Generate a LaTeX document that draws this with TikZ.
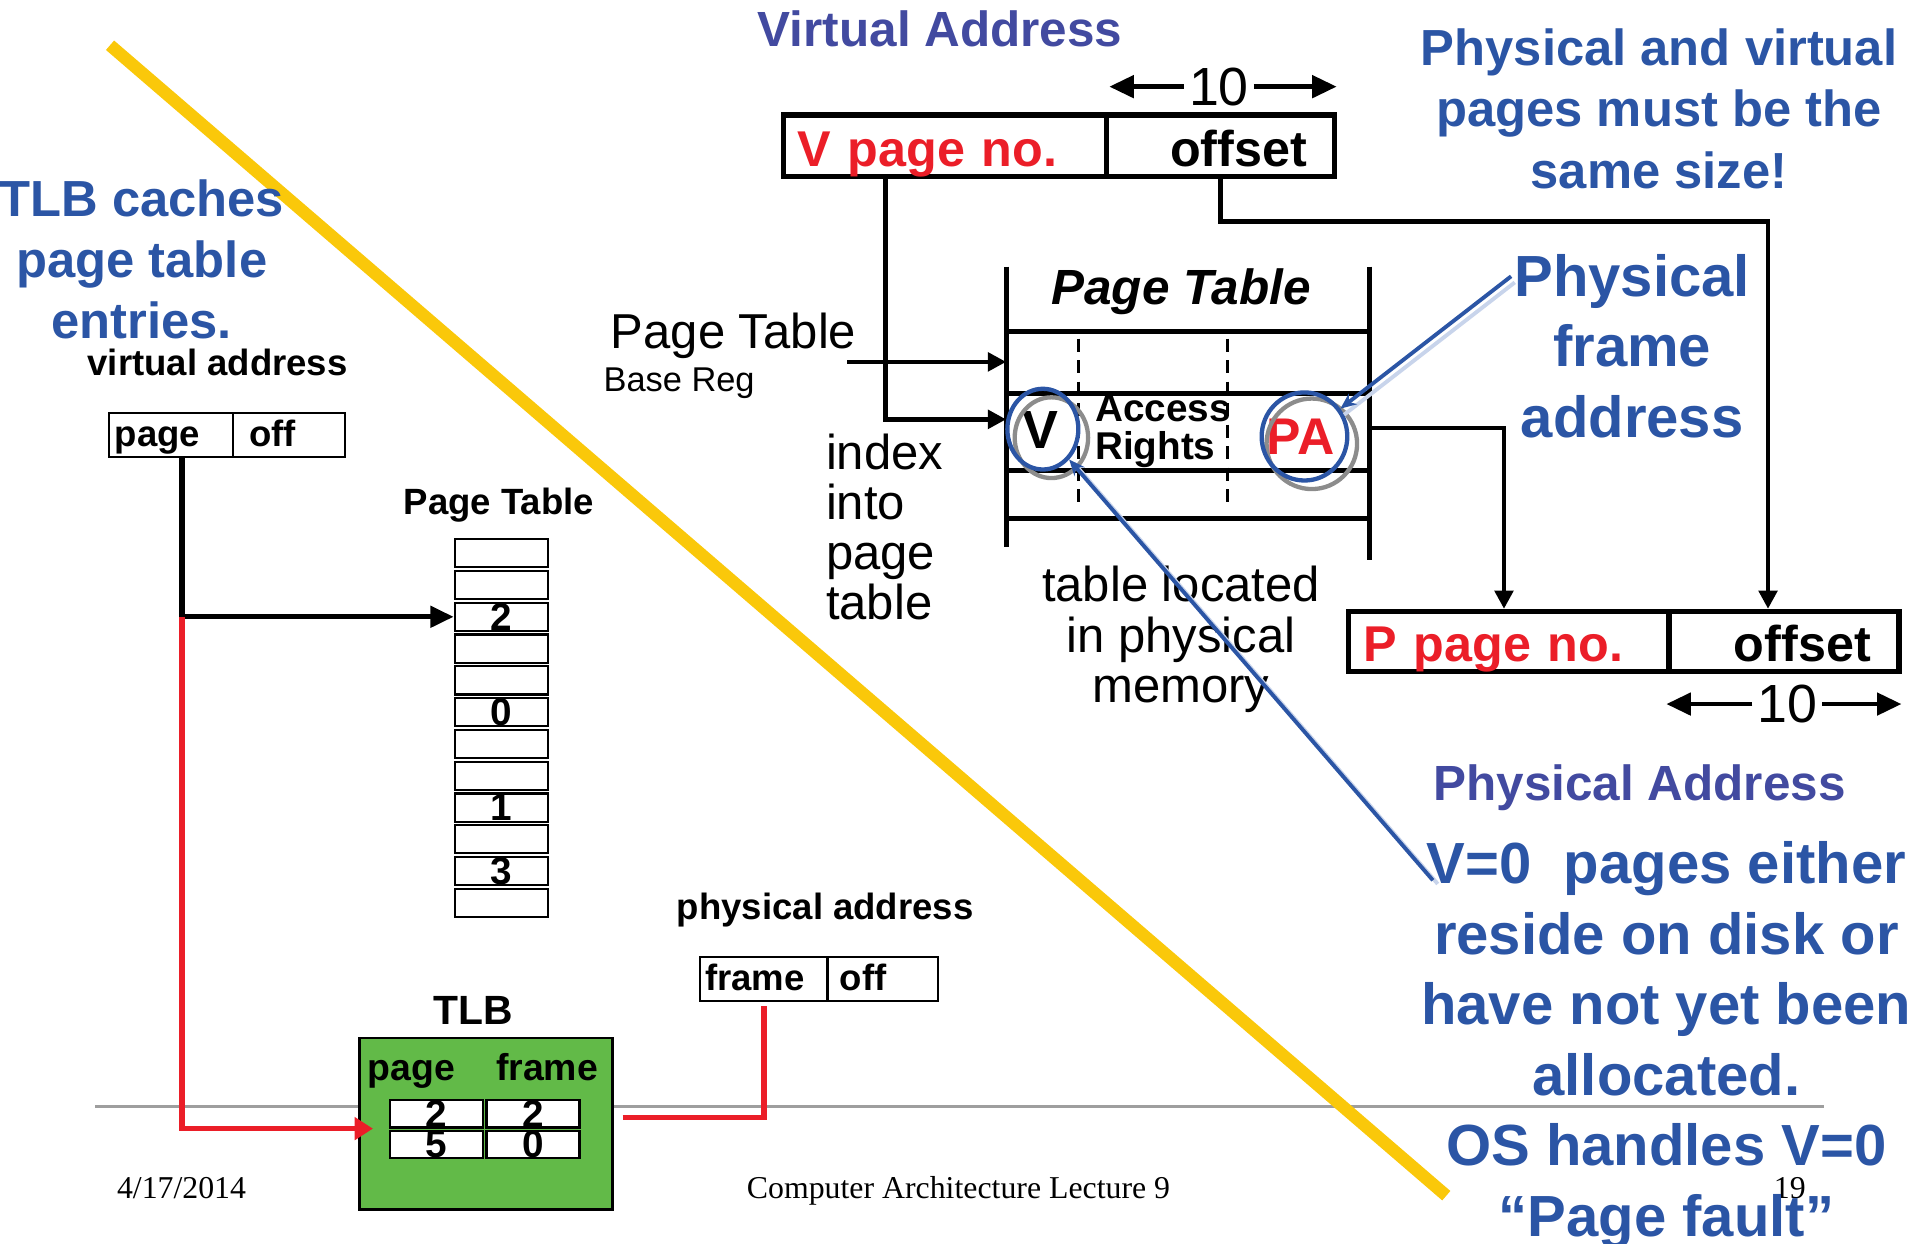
\documentclass[tikz,border=0pt]{standalone}
\usepackage{fontspec}
\setmainfont{Liberation Sans}
\newfontfamily\slideserif{Liberation Serif}
\usetikzlibrary{arrows.meta,shapes.geometric}

\definecolor{noteblue}{RGB}{43,85,165}
\definecolor{headblue}{RGB}{66,74,160}
\definecolor{bitred}{RGB}{235,30,40}
\definecolor{tlbgreen}{RGB}{98,186,72}
\definecolor{strikeyellow}{RGB}{250,200,10}
\definecolor{glowblue}{RGB}{200,212,235}

\tikzset{
  note/.style={text=noteblue, align=center, font=\bfseries\fontsize{11.8}{14.2}\selectfont},
  bignote/.style={note, font=\bfseries\fontsize{13.5}{16.4}\selectfont},
  heading/.style={text=headblue, font=\bfseries\fontsize{11.5}{13}\selectfont},
  lbl/.style={font=\bfseries\fontsize{8.5}{10}\selectfont},
  plainlbl/.style={font=\fontsize{11.4}{11.6}\selectfont},
  slot/.style={draw, line width=0.5pt, fill=white, inner ysep=0pt, minimum height=0.36cm,
    anchor=north west, align=left, lbl, text height=6.6pt, text depth=1.4pt},
  ptcell/.style={draw, line width=0.5pt, fill=white, inner sep=0pt, minimum width=0.76cm,
    minimum height=0.23cm, font=\bfseries\fontsize{9}{9}\selectfont, text height=6.2pt, text depth=0pt},
  field/.style={draw, line width=1.2pt, inner ysep=0pt, minimum height=0.5cm, anchor=north west,
    font=\bfseries\fontsize{11.7}{13}\selectfont, text height=10pt, text depth=0.5pt},
  wire/.style={line width=1.1pt},
  headtip/.style={-{Triangle[length=0.15cm,width=0.15cm]}},
  bitstip/.style={-{Triangle[length=0.2cm,width=0.18cm]}},
  ring/.style={ellipse, draw, line width=1pt, inner sep=0pt},
  pointer/.style={noteblue, line width=0.9pt, -{Stealth[length=0.13cm,width=0.11cm]}},
  glow/.style={glowblue, line width=0.9pt},
  footer/.style={font=\slideserif\fontsize{7.4}{8}\selectfont, anchor=base},
}

\begin{document}
\begin{tikzpicture}[x=0.01cm, y=-0.01cm]
\useasboundingbox (0,0) rectangle (1568,1017);

% slide rule, footer
\draw[line width=0.85pt, black!38] (78,905) -- (1492,905);
\node[footer, anchor=base west, inner xsep=0pt] (date) at (95,980) {4/17/2014};
\node[footer] (course) at (784,980) {Computer Architecture Lecture 9};
\node[footer] (slideno) at (1464,980) {19};

% yellow strike across the slide
\draw[strikeyellow, line width=2.9pt] (90,37) -- (1183,978);

%%% left half: TLB example
\node[note] (tlbnote) at (116,212) {TLB caches\\page table\\entries.};

\node[lbl, anchor=base] (valbl) at (178,307) {virtual address};
\node[slot, minimum width=1.02cm, inner xsep=0.05cm, text width=0.92cm] (vpg) at (88,337) {page};
\node[slot, minimum width=0.91cm, inner xsep=0.13cm, text width=0.65cm] (voffl) at (190,337) {off};

\node[lbl, anchor=base] (ptlbl) at (408,421) {Page Table};
\foreach \v [count=\i from 0] in {{},{},2,{},{},0,{},{},1,{},3,{}}
    {\node[ptcell] (pt\i) at (410,{452.5+26*\i}) {\v};}

% TLB
\node[draw, fill=tlbgreen, line width=0.6pt, minimum width=2.07cm, minimum height=1.40cm,
  anchor=north west] (tlb) at (293,848) {};
\node[lbl, font=\bfseries\fontsize{9.5}{10}\selectfont, anchor=base] (tlblbl) at (387,838) {TLB};
\node[lbl, font=\bfseries\fontsize{8.7}{10}\selectfont, inner xsep=0pt, anchor=base west] (tlbpg) at (300,884) {page};
\node[lbl, font=\bfseries\fontsize{8.7}{10}\selectfont, inner xsep=0pt, anchor=base west] (tlbfr) at (405,884) {frame};
\foreach \p/\f [count=\r from 0] in {2/2,5/0}
{
    \node[ptcell, minimum height=0.225cm] (tlbp\r) at (357,{911+25*\r}) {\p};
    \node[ptcell, minimum height=0.225cm] (tlbf\r) at (436,{911+25*\r}) {\f};
}

\node[lbl, anchor=base] (palbl) at (675,752) {physical address};
\node[slot, minimum width=1.04cm, inner xsep=0.04cm, text width=0.96cm] (pfr) at (572,782) {frame};
\node[slot, minimum width=0.90cm, inner xsep=0.10cm, text width=0.70cm] (poffl) at (676,782) {off};

% page lookup, then the TLB path
\coordinate (vtap) at ([xshift=0.09cm]vpg.south);
\coordinate (tlbin) at ([xshift=-0.13cm]tlbp0.south west);
\draw[line width=1.2pt, -{Triangle[length=0.19cm,width=0.17cm]}] (vtap) |- (pt2.west);
\draw[line width=1.2pt, bitred, -{Triangle[length=0.15cm,width=0.18cm]}] (vtap |- pt2.west) |- (tlbin);
\draw[line width=1.2pt, bitred] ([shift={(7,-5)}]tlb.east) -| ([yshift=-0.03cm]pfr.south);

%%% right half: address translation
\node[heading, anchor=base] (vahead) at (769,38) {Virtual Address};
\node[field, minimum width=2.64cm, inner xsep=0.11cm, text width=2.42cm, align=left, text=bitred] (vpn) at (639,92) {V page no.};
\node[field, minimum width=1.86cm, inner xsep=0.22cm, text width=1.42cm, align=right] (voff) at (903,92) {offset};

\node[font=\fontsize{12.5}{13}\selectfont, inner xsep=1pt, anchor=base] (vbits) at (997,86) {10};
\draw[wire, bitstip] (vbits.west) -- (vbits -| vpn.north east);
\draw[wire, bitstip] (vbits.east) -- (vbits -| voff.north east);

% page table in memory
\draw[wire] (823,218) -- (823,447);
\draw[wire] (1120,218) -- (1120,458);
\foreach \y in {271,322,385,424}
    {\draw[wire] (823,\y) -- (1120,\y);}
\foreach \x in {882,1004}
    {\draw[densely dashed, line width=0.6pt] (\x,277) -- (\x,415);}
\node[font=\bfseries\itshape\fontsize{11.5}{12}\selectfont, anchor=base] (pthead) at (966,249) {Page Table};

\coordinate (ptbase) at (823,296);
\coordinate (ptidx) at (823,343);
\coordinate (ptout) at (1120,350);

\node[plainlbl, inner xsep=0pt, anchor=base west] (pbrlbl) at (499,285) {Page Table};
\node[font=\fontsize{8}{9}\selectfont, inner xsep=0pt, anchor=base west] (pbrsub) at (493,320) {Base Reg};
\draw[wire, headtip] ([xshift=-0.08cm]pbrlbl.east |- ptbase) -- (ptbase);
\draw[wire, headtip] ([xshift=-0.49cm]vpn.south) |- (ptidx);

\node[plainlbl, align=left, inner xsep=0pt, anchor=west] (idxlbl) at (675,431) {index\\into\\page\\table};
\node[plainlbl, align=center, font=\fontsize{11.4}{11.7}\selectfont] (memlbl) at (966,523) {table located\\in physical\\memory};

% one page table entry
\node[font=\bfseries\fontsize{12.5}{13}\selectfont] (vbit) at (851,352) {V};
\node[font=\bfseries\fontsize{9}{8.9}\selectfont, align=left, inner xsep=0pt, anchor=west] (rights) at (895,353) {Access\\Rights};
\node[font=\bfseries\fontsize{12}{13}\selectfont, text=bitred] (pa) at (1064,357) {PA};

\node[ring, draw=black!45, minimum width=0.60cm, minimum height=0.66cm] (vshade) at (860,358) {};
\node[ring, draw=noteblue, minimum width=0.58cm, minimum height=0.66cm] (vring) at (853,351) {};
\node[ring, draw=black!45, minimum width=0.74cm, minimum height=0.74cm] (pashade) at (1073,363) {};
\node[ring, draw=noteblue, minimum width=0.70cm, minimum height=0.72cm] (paring) at (1067,357) {};

% physical address
\node[field, minimum height=0.49cm, inner xsep=0.12cm, text width=2.38cm, align=left, text=bitred] (ppn) at (1101,498) {P page no.};
\node[field, minimum height=0.49cm, inner xsep=0.23cm, text width=1.42cm, align=right] (poff) at (1363,498) {offset};

\draw[wire, headtip] (ptout) -| ([xshift=-0.04cm]ppn.north);
\draw[wire, headtip] (voff.south) -- ++(0,35) -| ([xshift=-0.13cm]poff.north);

\node[font=\fontsize{12.5}{13}\selectfont, inner xsep=1pt, anchor=base] (pbits) at (1462,591) {10};
\draw[wire, bitstip] (pbits.west) -- (pbits -| poff.south west);
\draw[wire, bitstip] (pbits.east) -- (pbits -| poff.south east);

\node[heading, anchor=base] (pahead) at (1341,655) {Physical Address};

%%% notes
\node[note] (samesize) at (1357,89) {Physical and virtual\\pages must be the\\same size!};
\node[bignote] (physnote) at (1335,283) {Physical\\frame\\address};
\node[bignote] (vzeronote) at (1363,855) {V=0\ \ pages either\\reside on disk or\\have not yet been\\allocated.\\OS handles V=0\\“Page fault”};

\coordinate (physptr) at (1236,226);
\coordinate (vzeroptr) at (1172,720);
\draw[glow, transform canvas={xshift=0.03cm, yshift=-0.05cm}] (physptr) -- (paring);
\draw[pointer] (physptr) -- (paring);
\draw[glow, transform canvas={xshift=0.04cm, yshift=-0.03cm}] (vzeroptr) -- (vring);
\draw[pointer] (vzeroptr) -- (vring);

\end{tikzpicture}
\end{document}
